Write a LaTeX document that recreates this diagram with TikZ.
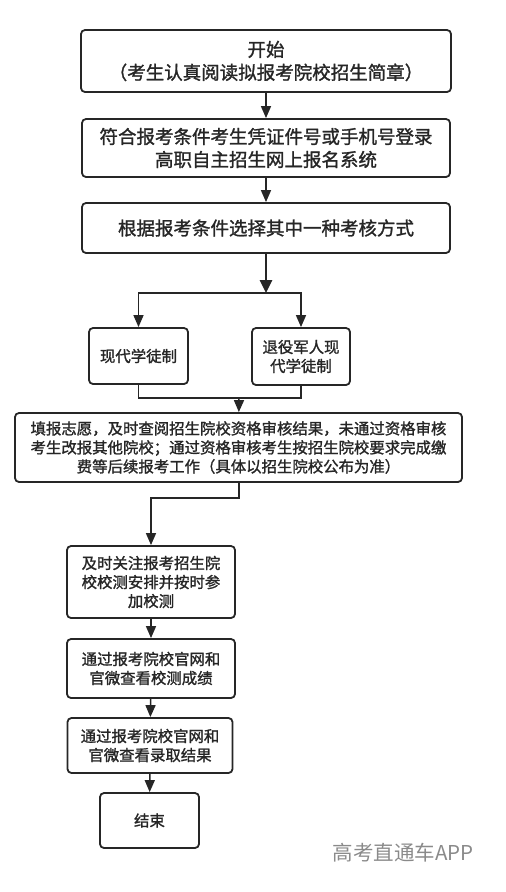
\documentclass[tikz,border=0pt]{standalone}
\usepackage{fontspec}
\setmainfont{Noto Sans CJK SC}
\newfontfamily\boxfont{Noto Sans CJK SC}[FakeBold=1.4]
\usetikzlibrary{arrows.meta}
\definecolor{linegray}{HTML}{262626}
\definecolor{markgray}{HTML}{8A8A8A}

\begin{document}
\begin{tikzpicture}[
    x=1pt, y=-1pt,
    bigbox/.style={rectangle, draw=linegray, line width=1.8pt, rounded corners=4pt, align=center, inner sep=0pt, text=black!85, font=\boxfont\fontsize{18.5}{23}\selectfont},
    smallbox/.style={rectangle, draw=linegray, line width=1.8pt, rounded corners=4pt, align=center, inner sep=0pt, text=black!85, font=\boxfont\fontsize{15.4}{19}\selectfont},
    arr/.style={-{Triangle[width=10pt,length=12pt]}, draw=linegray, line width=1.5pt},
    link/.style={draw=linegray, line width=1.5pt}
]
\useasboundingbox (0,0) rectangle (506,892);

% Top steps
\node[bigbox, minimum width=370pt, minimum height=62pt] (start) at (266,61) {开始\\（考生认真阅读拟报考院校招生简章）};
\node[bigbox, minimum width=368pt, minimum height=58pt] (login) at (266,148) {符合报考条件考生凭证件号或手机号登录\\高职自主招生网上报名系统};
\node[bigbox, minimum width=368pt, minimum height=50pt] (choose) at (266,228) {根据报考条件选择其中一种考核方式};

% Two ways
\node[smallbox, minimum width=99pt, minimum height=56pt] (modern) at (138.5,356) {现代学徒制};
\node[smallbox, minimum width=98pt, minimum height=57pt] (veteran) at (301,356.5) {退役军人现\\代学徒制};

% Application
\node[smallbox, minimum width=447pt, minimum height=69pt] (apply) at (238.5,447.5) {填报志愿，及时查阅招生院校资格审核结果，未通过资格审核\\考生改报其他院校；通过资格审核考生按招生院校要求完成缴\\费等后续报考工作（具体以招生院校公布为准）};

% Later steps
\node[smallbox, minimum width=168pt, minimum height=72pt] (test) at (151,582) {及时关注报考招生院\\校校测安排并按时参\\加校测};
\node[smallbox, minimum width=168pt, minimum height=59pt] (score) at (151,668.5) {通过报考院校官网和\\官微查看校测成绩};
\node[smallbox, minimum width=165pt, minimum height=55pt] (admit) at (150,745.5) {通过报考院校官网和\\官微查看录取结果};
\node[smallbox, minimum width=99pt, minimum height=55pt] (finish) at (149.5,820.5) {结束};

% Watermark
\node[text=markgray, font=\fontsize{20.5}{24}\selectfont] (mark) at (403,853) {高考直通车APP};

% Junctions
\coordinate (split) at (266,293);
\coordinate (merge) at (239,398);

% Arrows
\draw[arr] (start) -- (login);
\draw[arr] (login) -- (choose);
\draw[arr, line width=2.6pt, -{Triangle[width=12pt,length=13pt]}] (choose) -- (split);
\draw[arr] (split) -| (modern);
\draw[arr] (split) -| (veteran);
\draw[link] (modern.south) |- (merge);
\draw[link] (veteran.south) |- (merge);
\draw[arr] (merge) -- (apply);
\draw[arr] (apply.south -| merge) -- ++(0,15) -| (test);
\draw[arr] (test) -- (score);
\draw[arr] (score) -- (admit);
\draw[arr] (admit) -- (finish);

\end{tikzpicture}
\end{document}
